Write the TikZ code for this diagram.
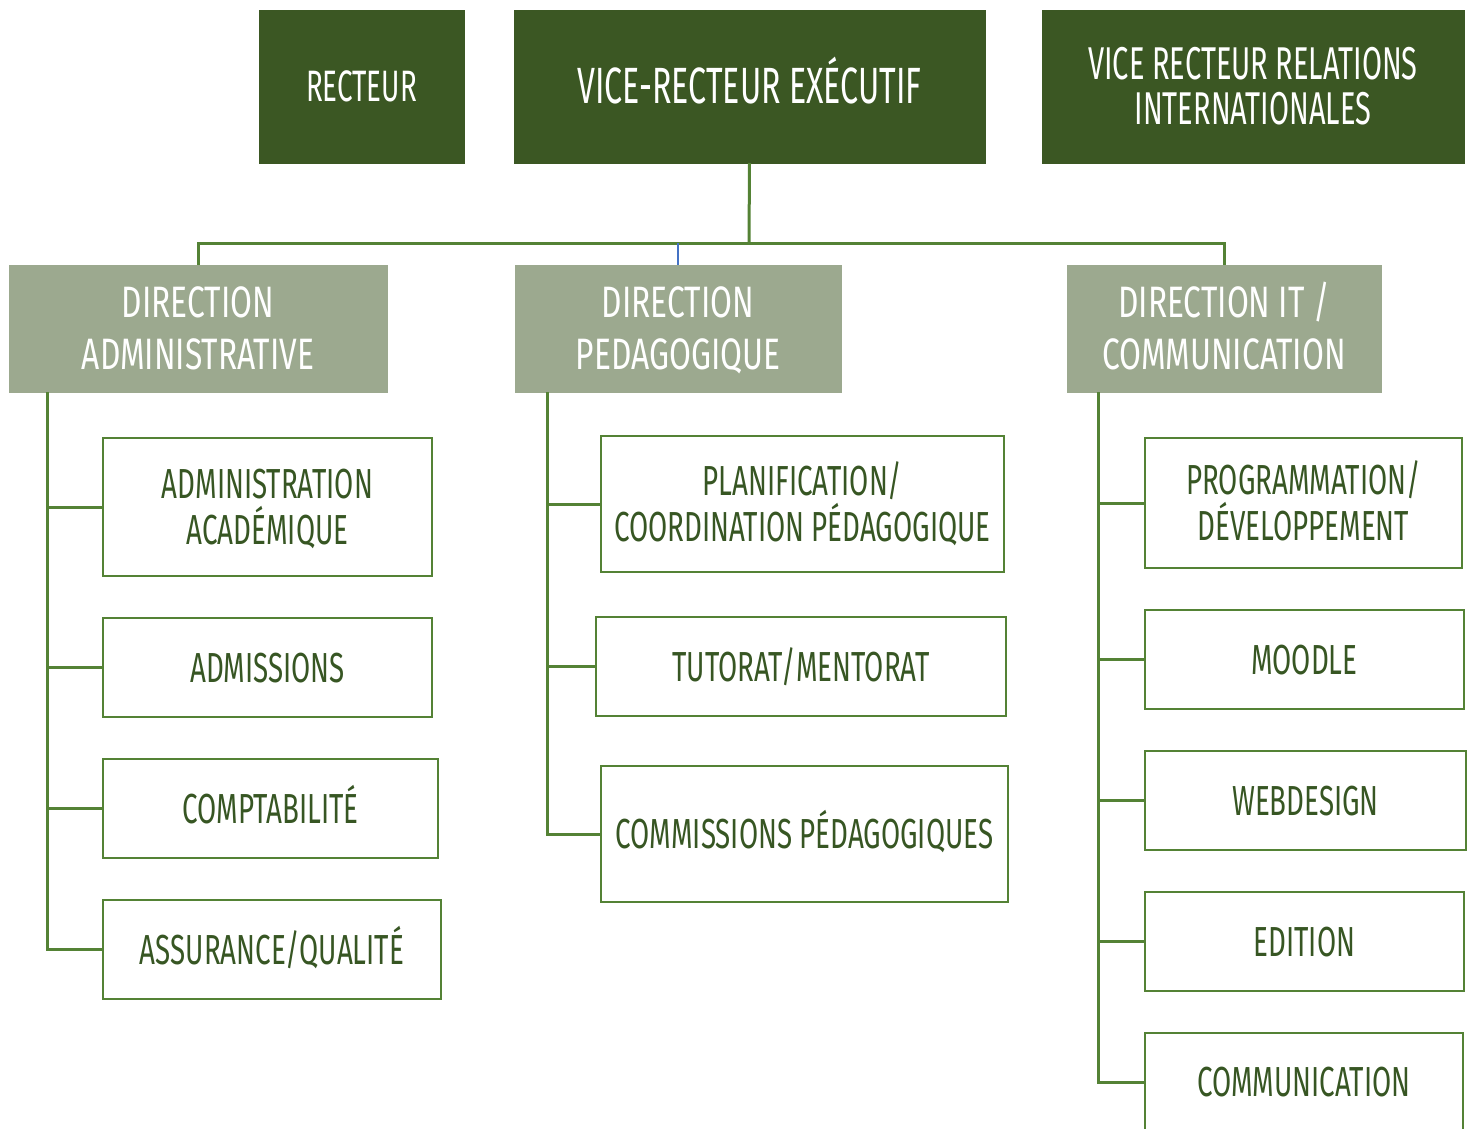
\documentclass[tikz,border=0pt]{standalone}
\usepackage{fontspec}
\setmainfont{Fira Sans}
\newfontfamily\topf{Fira Sans}[FakeStretch=0.63]
\newfontfamily\dirf{Fira Sans}[FakeStretch=0.72]
\newfontfamily\subf{Fira Sans}[FakeStretch=0.66]
\definecolor{darkg}{HTML}{3B5723}
\definecolor{greyg}{HTML}{9CA98F}
\definecolor{lineg}{HTML}{548235}
\definecolor{textg}{HTML}{375623}
\definecolor{stubblue}{HTML}{4472C4}
\tikzset{
  topbox/.style={fill=darkg, draw=darkg, text=white, anchor=north west, inner sep=0pt, outer sep=0pt, align=center},
  dirbox/.style={fill=greyg, draw=greyg, text=white, anchor=north west, inner sep=0pt, outer sep=0pt, align=center, font=\dirf\fontsize{44}{52}\selectfont, text height=82pt, text depth=0pt},
  subbox/.style={fill=white, draw=lineg, line width=2pt, text=textg, anchor=north west, inner sep=0pt, outer sep=0pt, align=center, font=\subf\fontsize{42}{46}\selectfont},
  oneline/.style={text height=29pt, text depth=0pt},
  twoline/.style={text height=75pt, text depth=0pt},
  conn/.style={draw=lineg, line width=3pt},
}
\begin{document}
\begin{tikzpicture}[x=1pt,y=-1pt]
\useasboundingbox (0,0) rectangle (1473,1129);
% top row
\node[topbox, minimum width=205, minimum height=153, font=\topf\fontsize{44}{46}\selectfont, text height=30pt, text depth=0pt] (rect) at (259,10) {RECTEUR};
\node[topbox, minimum width=471, minimum height=153, font=\topf\fontsize{51}{53}\selectfont, text height=35pt, text depth=0pt] (vre) at (514,10) {VICE-RECTEUR EXÉCUTIF};
\node[topbox, minimum width=422, minimum height=153, font=\topf\fontsize{46}{45}\selectfont, text height=77pt, text depth=0pt] (vri) at (1042,10) {VICE RECTEUR RELATIONS\\INTERNATIONALES};
% directions
\node[dirbox, minimum width=378, minimum height=127] (da) at (9,265) {DIRECTION\\ADMINISTRATIVE};
\node[dirbox, minimum width=326, minimum height=127] (dp) at (515,265) {DIRECTION\\PEDAGOGIQUE};
\node[dirbox, minimum width=314, minimum height=127] (dit) at (1067,265) {DIRECTION IT /\\COMMUNICATION};
% bus
\coordinate (bus) at (749,243);
\draw[conn] (vre.south) -- (bus);
\draw[conn] (bus) -| (da.north);
\draw[conn] (bus) -| (dit.north);
\draw[draw=stubblue, line width=2pt] (dp.north) -- (dp.north |- bus);
% left column
\node[subbox, twoline, minimum width=329, minimum height=138] (a1) at (103,438) {ADMINISTRATION\\ACADÉMIQUE};
\node[subbox, oneline, minimum width=329, minimum height=99] (a2) at (103,618) {ADMISSIONS};
\node[subbox, oneline, minimum width=335, minimum height=99] (a3) at (103,759) {COMPTABILITÉ};
\node[subbox, oneline, minimum width=338, minimum height=99] (a4) at (103,900) {ASSURANCE/QUALITÉ};
\coordinate (la) at (47,392);
\draw[conn] (la) |- (a1.west);
\draw[conn] (la) |- (a2.west);
\draw[conn] (la) |- (a3.west);
\draw[conn] (la) |- (a4.west);
% middle column
\node[subbox, twoline, minimum width=403, minimum height=136] (p1) at (601,436) {PLANIFICATION/\\COORDINATION PÉDAGOGIQUE};
\node[subbox, oneline, minimum width=410, minimum height=99] (p2) at (596,617) {TUTORAT/MENTORAT};
\node[subbox, oneline, minimum width=407, minimum height=136] (p3) at (601,766) {COMMISSIONS PÉDAGOGIQUES};
\coordinate (lp) at (547,392);
\draw[conn] (lp) |- (p1.west);
\draw[conn] (lp) |- (p2.west);
\draw[conn] (lp) |- (p3.west);
% right column
\node[subbox, twoline, minimum width=317, minimum height=130] (i1) at (1145,438) {PROGRAMMATION/\\DÉVELOPPEMENT};
\node[subbox, oneline, minimum width=319, minimum height=99] (i2) at (1145,610) {MOODLE};
\node[subbox, oneline, minimum width=321, minimum height=99] (i3) at (1145,751) {WEBDESIGN};
\node[subbox, oneline, minimum width=319, minimum height=99] (i4) at (1145,892) {EDITION};
\node[subbox, oneline, minimum width=318, minimum height=98] (i5) at (1145,1033) {COMMUNICATION};
\coordinate (li) at (1098,392);
\draw[conn] (li) |- (i1.west);
\draw[conn] (li) |- (i2.west);
\draw[conn] (li) |- (i3.west);
\draw[conn] (li) |- (i4.west);
\draw[conn] (li) |- (i5.west);
\end{tikzpicture}
\end{document}
